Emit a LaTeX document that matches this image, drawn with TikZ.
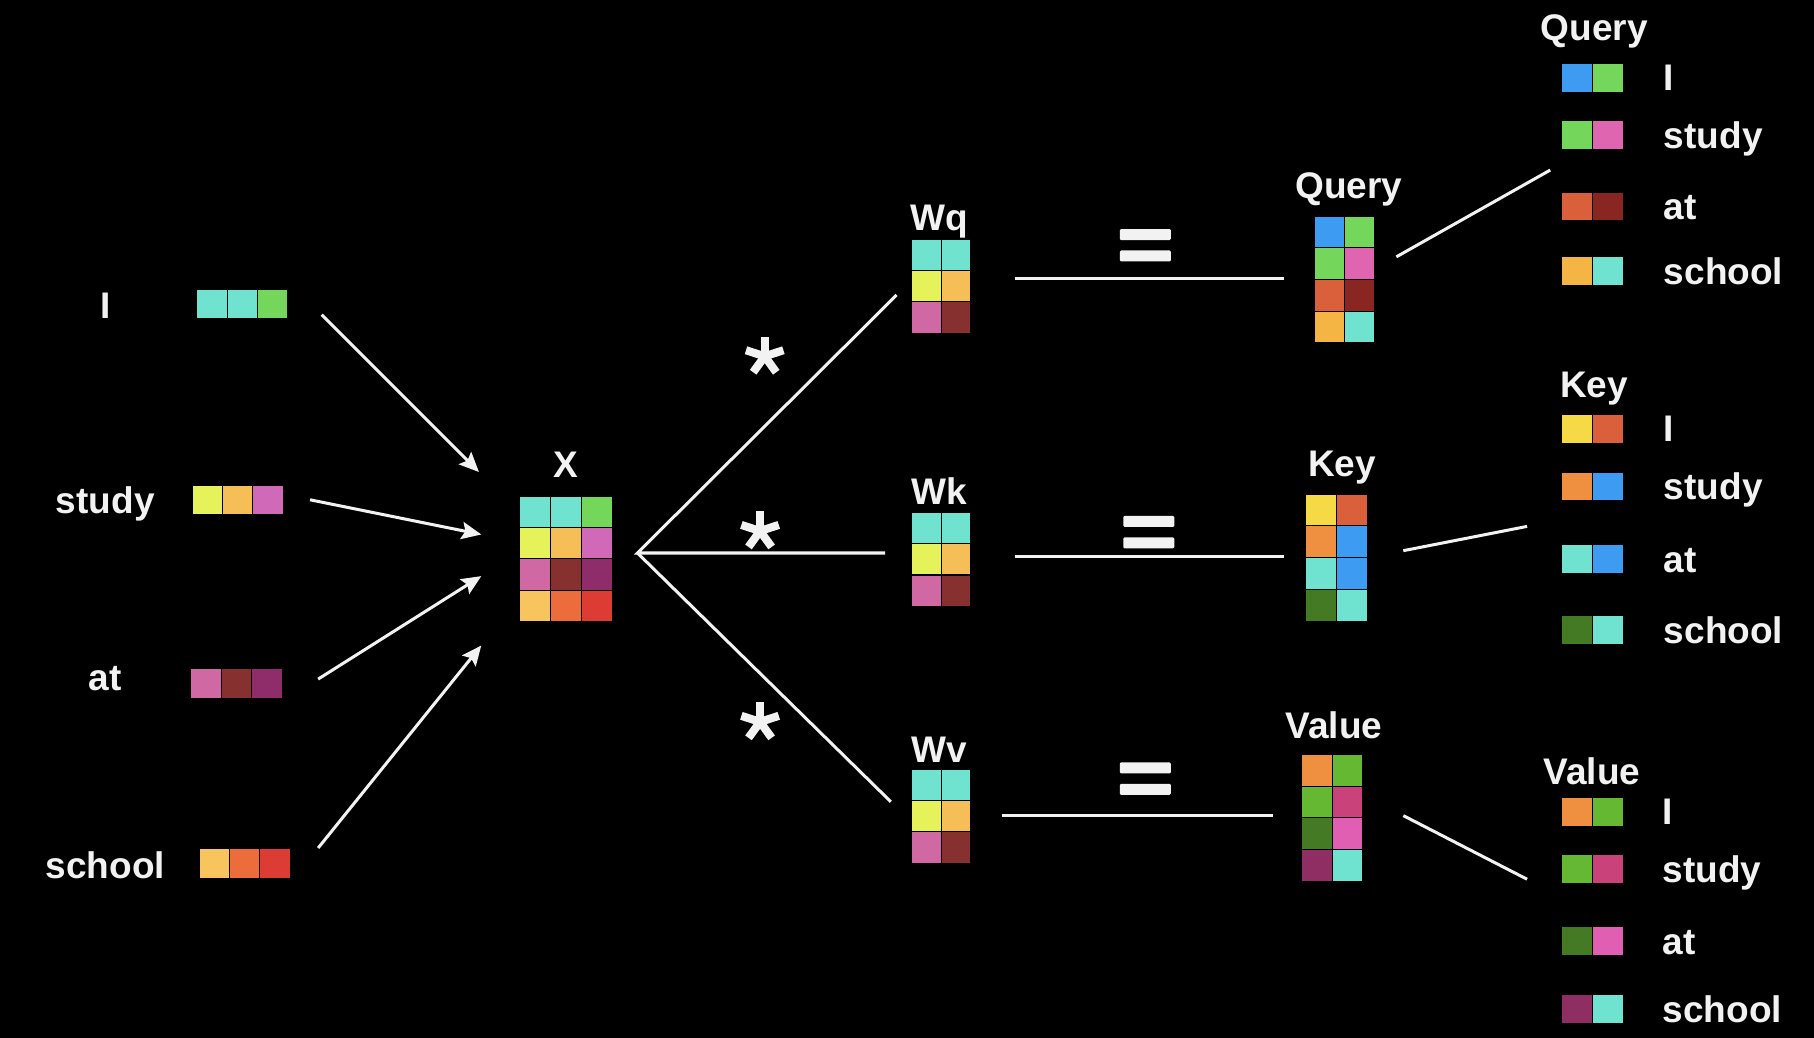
\documentclass[tikz,border=0pt]{standalone}
\usepackage{fontspec}
\setmainfont{Liberation Sans}
\usetikzlibrary{arrows.meta}
\definecolor{cTeal}{HTML}{6FE3CF}
\definecolor{cGrn}{HTML}{74D65A}
\definecolor{cLime}{HTML}{E6F25A}
\definecolor{cGold}{HTML}{F6BE56}
\definecolor{cPink}{HTML}{D069B7}
\definecolor{cRose}{HTML}{D068A3}
\definecolor{cDkRed}{HTML}{873030}
\definecolor{cPlum}{HTML}{8E2D6A}
\definecolor{cSand}{HTML}{F8C45E}
\definecolor{cOrng}{HTML}{EC6C3C}
\definecolor{cRed}{HTML}{DC3C33}
\definecolor{cBlue}{HTML}{3D9BF2}
\definecolor{cQPink}{HTML}{E065B0}
\definecolor{cRust}{HTML}{D9603A}
\definecolor{cMaroon}{HTML}{8A2622}
\definecolor{cQOrng}{HTML}{F5B545}
\definecolor{cYel}{HTML}{F5DA45}
\definecolor{cKOrng}{HTML}{EE9040}
\definecolor{cDGreen}{HTML}{437A23}
\definecolor{cVGreen}{HTML}{64B832}
\definecolor{cMag}{HTML}{C9437A}
\definecolor{cVPink}{HTML}{E05FB2}
\definecolor{cVPlum}{HTML}{8E2E62}
\definecolor{cTxt}{HTML}{F2F2F2}
% #1 name #2 x #3 y #4 cell w #5 cell h #6 ncols #7 nrows #8 rows
\newcommand{\cellmat}[8]{%
  \foreach \rw [count=\ri from 0] in {#8} {
    \foreach \cc [count=\ci from 0] in \rw {
      \fill[fill=\cc, draw=black, line width=0.9pt] ({#2+\ci*#4},{#3+\ri*#5}) rectangle ++(#4,#5);
    }
  }
  \node[inner sep=0, minimum width={#4*#6*1pt}, minimum height={#5*#7*1pt}, anchor=north west] (#1) at (#2,#3) {};
}
\tikzset{
  lbl/.style={text=cTxt, font=\fontsize{32}{36}\selectfont\bfseries, inner sep=0},
  conn/.style={draw=cTxt, line width=2.6pt},
  arr/.style={conn, -{Stealth[length=17pt,width=15pt,inset=3pt]}},
  ast/.pic={\foreach \a in {-90,-18,54,126,198} \draw[cTxt, line width=7pt] (0,0) -- (\a:17);},
  eqs/.pic={\fill[cTxt, rounded corners=1pt] (-22,-14) rectangle (22,-4.5);
            \fill[cTxt, rounded corners=1pt] (-22,4.5) rectangle (22,14);}
}
\begin{document}
\begin{tikzpicture}[x=1pt, y=-1pt]
\fill[black] (0,0) rectangle (1568,897);
\useasboundingbox (0,0) rectangle (1568,897);

% left word labels
\node[lbl, anchor=base] (wI) at (91,275) {I};
\node[lbl, anchor=base] (wStudy) at (91,444) {study};
\node[lbl, anchor=base] (wAt) at (91,597) {at};
\node[lbl, anchor=base] (wSchool) at (91,759) {school};

% left embeddings
\cellmat{eI}{170}{250}{26.3}{25}{3}{1}{{cTeal,cTeal,cGrn}}
\cellmat{eStudy}{166}{420}{26.3}{25}{3}{1}{{cLime,cGold,cPink}}
\cellmat{eAt}{165}{578}{26.3}{26}{3}{1}{{cRose,cDkRed,cPlum}}
\cellmat{eSchool}{172}{733}{26.3}{26}{3}{1}{{cSand,cOrng,cRed}}

% X
\node[lbl, anchor=base] (lX) at (489,413) {X};
\cellmat{X}{449}{429}{26.7}{27}{3}{4}{{cTeal,cTeal,cGrn},{cLime,cGold,cPink},{cRose,cDkRed,cPlum},{cSand,cOrng,cRed}}

% arrows into X
\coordinate (aI1) at (278,272);   \coordinate (aI2) at (414,408);
\coordinate (aS1) at (268,432);   \coordinate (aS2) at (416,462);
\coordinate (aA1) at (275,587);   \coordinate (aA2) at (416,498);
\coordinate (aC1) at (275,733);   \coordinate (aC2) at (416,558);
\draw[arr] (aI1) -- (aI2);
\draw[arr] (aS1) -- (aS2);
\draw[arr] (aA1) -- (aA2);
\draw[arr] (aC1) -- (aC2);

% W matrices
\node[lbl, anchor=base] (lWq) at (812,199) {Wq};
\cellmat{Wq}{788}{207}{25.5}{27}{2}{3}{{cTeal,cTeal},{cLime,cGold},{cRose,cDkRed}}
\node[lbl, anchor=base] (lWk) at (812,436) {Wk};
\cellmat{Wk}{788}{443}{25.5}{27}{2}{3}{{cTeal,cTeal},{cLime,cGold},{cRose,cDkRed}}
\node[lbl, anchor=base] (lWv) at (812,659) {Wv};
\cellmat{Wv}{788}{665}{25.5}{27}{2}{3}{{cTeal,cTeal},{cLime,cGold},{cRose,cDkRed}}

% branch lines
\coordinate (br) at (551,478);
\coordinate (bq) at (775,255);
\coordinate (bk) at (765,478);
\coordinate (bv) at (770,693);
\draw[conn, line join=miter] (bq) -- (br) -- (bk);
\draw[conn] (br) -- (bv);
\pic at (661,308) {ast};
\pic at (657,459) {ast};
\pic at (657,624) {ast};

% equals and lines
\pic at (990,212) {eqs};
\pic at (993,460) {eqs};
\pic at (990,673) {eqs};
\coordinate (q1) at (877,241); \coordinate (q2) at (1110,241);
\coordinate (k1) at (877,481); \coordinate (k2) at (1110,481);
\coordinate (v1) at (866,705); \coordinate (v2) at (1100,705);
\draw[conn] (q1) -- (q2);
\draw[conn] (k1) -- (k2);
\draw[conn] (v1) -- (v2);

% result matrices
\node[lbl, anchor=base] (lQ) at (1166,172) {Query};
\cellmat{Q}{1136}{187}{26}{27.3}{2}{4}{{cBlue,cGrn},{cGrn,cQPink},{cRust,cMaroon},{cQOrng,cTeal}}
\node[lbl, anchor=base] (lK) at (1160,412) {Key};
\cellmat{K}{1128}{427}{27}{27.5}{2}{4}{{cYel,cRust},{cKOrng,cBlue},{cTeal,cBlue},{cDGreen,cTeal}}
\node[lbl, anchor=base] (lV) at (1153,638) {Value};
\cellmat{V}{1125}{652}{26.5}{27.5}{2}{4}{{cKOrng,cVGreen},{cVGreen,cMag},{cDGreen,cVPink},{cVPlum,cTeal}}

% lines to split rows
\coordinate (sq1) at (1207,222); \coordinate (sq2) at (1340,147);
\coordinate (sk1) at (1213,476); \coordinate (sk2) at (1320,455);
\coordinate (sv1) at (1213,705); \coordinate (sv2) at (1320,760);
\draw[conn] (sq1) -- (sq2);
\draw[conn] (sk1) -- (sk2);
\draw[conn] (sv1) -- (sv2);

% right: Query rows
\node[lbl, anchor=base] (tQ) at (1378,35) {Query};
\cellmat{rq1}{1350}{55}{26.5}{25}{2}{1}{{cBlue,cGrn}}
\cellmat{rq2}{1350}{104}{26.5}{25}{2}{1}{{cGrn,cQPink}}
\cellmat{rq3}{1350}{166}{26.5}{25}{2}{1}{{cRust,cMaroon}}
\cellmat{rq4}{1350}{222}{26.5}{25}{2}{1}{{cQOrng,cTeal}}
\node[lbl, anchor=base west] (rqt1) at (1438,78) {I};
\node[lbl, anchor=base west] (rqt2) at (1438,128) {study};
\node[lbl, anchor=base west] (rqt3) at (1438,190) {at};
\node[lbl, anchor=base west] (rqt4) at (1438,246) {school};

% right: Key rows
\node[lbl, anchor=base] (tK) at (1378,344) {Key};
\cellmat{rk1}{1350}{358}{26.5}{25}{2}{1}{{cYel,cRust}}
\cellmat{rk2}{1350}{408}{26.5}{25}{2}{1}{{cKOrng,cBlue}}
\cellmat{rk3}{1350}{471}{26.5}{25}{2}{1}{{cTeal,cBlue}}
\cellmat{rk4}{1350}{532}{26.5}{25}{2}{1}{{cDGreen,cTeal}}
\node[lbl, anchor=base west] (rkt1) at (1438,382) {I};
\node[lbl, anchor=base west] (rkt2) at (1438,432) {study};
\node[lbl, anchor=base west] (rkt3) at (1438,495) {at};
\node[lbl, anchor=base west] (rkt4) at (1438,556) {school};

% right: Value rows
\node[lbl, anchor=base] (tV) at (1376,678) {Value};
\cellmat{rv1}{1350}{689}{26.5}{25}{2}{1}{{cKOrng,cVGreen}}
\cellmat{rv2}{1350}{739}{26.5}{25}{2}{1}{{cVGreen,cMag}}
\cellmat{rv3}{1350}{801}{26.5}{25}{2}{1}{{cDGreen,cVPink}}
\cellmat{rv4}{1350}{860}{26.5}{25}{2}{1}{{cVPlum,cTeal}}
\node[lbl, anchor=base west] (rvt1) at (1437,713) {I};
\node[lbl, anchor=base west] (rvt2) at (1437,763) {study};
\node[lbl, anchor=base west] (rvt3) at (1437,825) {at};
\node[lbl, anchor=base west] (rvt4) at (1437,884) {school};
\end{tikzpicture}
\end{document}
